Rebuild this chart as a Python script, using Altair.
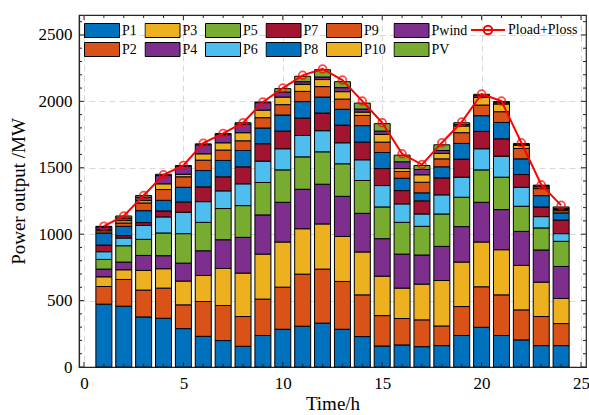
import altair as alt
import pandas as pd

hours = list(range(1, 25))
P1 = [473, 458, 377, 367, 289, 231, 199, 156, 237, 284, 307, 330, 284, 229, 158, 166, 153, 161, 237, 299, 237, 204, 161, 161]
P2 = [133, 201, 202, 227, 179, 262, 264, 224, 274, 317, 392, 407, 360, 314, 229, 199, 202, 148, 218, 305, 306, 226, 219, 166]
P3 = [73, 73, 148, 146, 179, 196, 279, 327, 339, 340, 342, 340, 339, 323, 297, 229, 269, 342, 335, 337, 340, 335, 259, 189]
P4 = [58, 58, 113, 98, 135, 186, 216, 269, 295, 299, 297, 299, 302, 291, 282, 256, 219, 257, 267, 299, 302, 256, 242, 241]
P5 = [73, 123, 121, 171, 222, 214, 235, 239, 244, 244, 244, 244, 245, 247, 239, 239, 216, 244, 221, 244, 244, 189, 166, 189]
P6 = [58, 58, 105, 121, 161, 156, 133, 164, 161, 159, 161, 159, 158, 156, 161, 139, 93, 144, 151, 159, 158, 143, 85, 58]
P7 = [50, 18, 21, 45, 78, 111, 106, 128, 131, 133, 131, 133, 133, 133, 128, 100, 99, 128, 136, 131, 131, 96, 73, 103]
P8 = [91, 70, 90, 80, 110, 123, 123, 123, 118, 121, 124, 120, 119, 124, 121, 93, 60, 83, 118, 118, 123, 118, 85, 53]
P9 = [17, 25, 58, 81, 79, 78, 78, 73, 78, 78, 77, 79, 77, 77, 78, 51, 80, 60, 81, 80, 81, 78, 53, 17]
P10 = [10, 18, 18, 43, 19, 48, 55, 61, 57, 57, 53, 53, 56, 25, 58, 22, 56, 41, 50, 58, 58, 23, 13, 10]
Pwind = [18, 20, 25, 62, 61, 68, 61, 65, 56, 38, 20, 19, 30, 23, 25, 51, 40, 22, 12, 13, 10, 7, 8, 8]
PV = [5, 15, 13, 10, 5, 7, 9, 10, 5, 26, 41, 55, 45, 45, 56, 50, 30, 43, 13, 10, 8, 8, 5, 10]
Pload = [1060, 1137, 1291, 1447, 1517, 1685, 1758, 1839, 1995, 2100, 2196, 2244, 2160, 2002, 1839, 1605, 1524, 1688, 1844, 2055, 2002, 1688, 1372, 1217]

series_names = ["P1", "P2", "P3", "P4", "P5", "P6", "P7", "P8", "P9", "P10", "Pwind", "PV"]
series_vals = [P1, P2, P3, P4, P5, P6, P7, P8, P9, P10, Pwind, PV]
series_colors = ["#0072BD", "#D95319", "#EDB120", "#7E2F8E", "#77AC30", "#4DBEEE",
                 "#A2142F", "#0072BD", "#D95319", "#EDB120", "#7E2F8E", "#77AC30"]
line_name = "Pload+Ploss"

x_major = [0, 5, 10, 15, 20, 25]
x_minor = [h for h in range(1, 25) if h % 5 != 0]
y_major = [0, 500, 1000, 1500, 2000, 2500]
y_minor = [v for v in range(100, 2700, 100) if v % 500 != 0]

W, H = 507, 352
FONT = "Liberation Serif"

rows = []
for i, (name, vals) in enumerate(zip(series_names, series_vals)):
    for h, v in zip(hours, vals):
        rows.append({"hour": h, "series": name, "value": v, "idx": i})
bars_df = pd.DataFrame(rows)
line_df = pd.DataFrame({"hour": hours, "load": Pload, "name": [line_name] * len(hours)})

xscale = alt.Scale(domain=[0, 25], nice=False, zero=False)
yscale = alt.Scale(domain=[0, 2650], nice=False)

bars = alt.Chart(bars_df).mark_bar(size=16, stroke="black", strokeWidth=1).encode(
    x=alt.X("hour:Q", scale=xscale,
            axis=alt.Axis(values=x_major, title="Time/h", grid=True, ticks=False,
                          labelPadding=8, titlePadding=3, format="d")),
    y=alt.Y("value:Q", scale=yscale, stack="zero",
            axis=alt.Axis(values=y_major, title="Power output /MW", grid=True, ticks=False,
                          labelPadding=7, titlePadding=10, format="d")),
    fill=alt.Fill("series:N", scale=alt.Scale(domain=series_names, range=series_colors),
                  legend=alt.Legend(orient="none", legendX=5, legendY=8, columns=6, title=None,
                                    direction="vertical",
                                    symbolType="M-1,-0.4H1V0.4H-1Z", symbolSize=1225,
                                    symbolStrokeColor="black", symbolStrokeWidth=1,
                                    clipHeight=15, labelOffset=2,
                                    labelFont=FONT, labelFontSize=14, labelColor="#000000",
                                    columnPadding=7.5, rowPadding=4, padding=0)),
    order=alt.Order("idx:Q", sort="ascending"),
)

line = alt.Chart(line_df).mark_line(strokeWidth=2).encode(
    x=alt.X("hour:Q", scale=xscale),
    y=alt.Y("load:Q", scale=yscale),
    stroke=alt.Stroke("name:N", scale=alt.Scale(domain=[line_name], range=["#FF0000"]),
                      legend=alt.Legend(orient="none", legendX=391, legendY=7.5, title=None,
                                        symbolType="M-1,0H1M0.25,0A0.25,0.25 0 1,1 -0.25,0A0.25,0.25 0 1,1 0.25,0",
                                        symbolSize=1156, symbolStrokeWidth=2,
                                        symbolFillColor="transparent",
                                        clipHeight=15,
                                        labelFont=FONT, labelFontSize=14, labelColor="#000000",
                                        labelOffset=2, padding=0)),
)

points = alt.Chart(line_df).mark_point(filled=False, size=60, strokeWidth=1.8, color="#FF0000").encode(
    x=alt.X("hour:Q", scale=xscale),
    y=alt.Y("load:Q", scale=yscale),
)

TC = "#262626"
xmaj_df = pd.DataFrame({"v": x_major})
xmin_df = pd.DataFrame({"v": x_minor})
ymaj_df = pd.DataFrame({"v": y_major})
ymin_df = pd.DataFrame({"v": y_minor})

def xticks(df, ln):
    b = alt.Chart(df).mark_rule(color=TC, strokeWidth=1).encode(
        x=alt.X("v:Q", scale=xscale), y=alt.value(H), y2=alt.value(H - ln))
    t = alt.Chart(df).mark_rule(color=TC, strokeWidth=1).encode(
        x=alt.X("v:Q", scale=xscale), y=alt.value(0), y2=alt.value(ln))
    return [b, t]

def yticks(df, ln):
    l = alt.Chart(df).mark_rule(color=TC, strokeWidth=1).encode(
        y=alt.Y("v:Q", scale=yscale), x=alt.value(0), x2=alt.value(ln))
    r = alt.Chart(df).mark_rule(color=TC, strokeWidth=1).encode(
        y=alt.Y("v:Q", scale=yscale), x=alt.value(W), x2=alt.value(W - ln))
    return [l, r]

tick_layers = xticks(xmaj_df, 5) + xticks(xmin_df, 3) + yticks(ymaj_df, 5) + yticks(ymin_df, 3)

chart = alt.layer(bars, line, points, *tick_layers).resolve_scale(
    fill="independent", stroke="independent"
).properties(
    width=W, height=H,
    autosize=alt.AutoSizeParams(type="none"),
    padding={"left": 79, "top": 15, "right": 3, "bottom": 48},
    background="white",
).configure_view(
    stroke=TC, strokeWidth=1.2
).configure_axis(
    labelFont=FONT, titleFont=FONT, labelFontSize=17, titleFontSize=19,
    titleFontWeight="normal", labelColor="#000000", titleColor="#000000",
    domainColor=TC, domainWidth=1.2,
    gridColor="#d9d9d9", gridDash=[6, 4], gridWidth=1,
)

chart.save("out.html", embed_options={"renderer": "svg", "actions": False})
